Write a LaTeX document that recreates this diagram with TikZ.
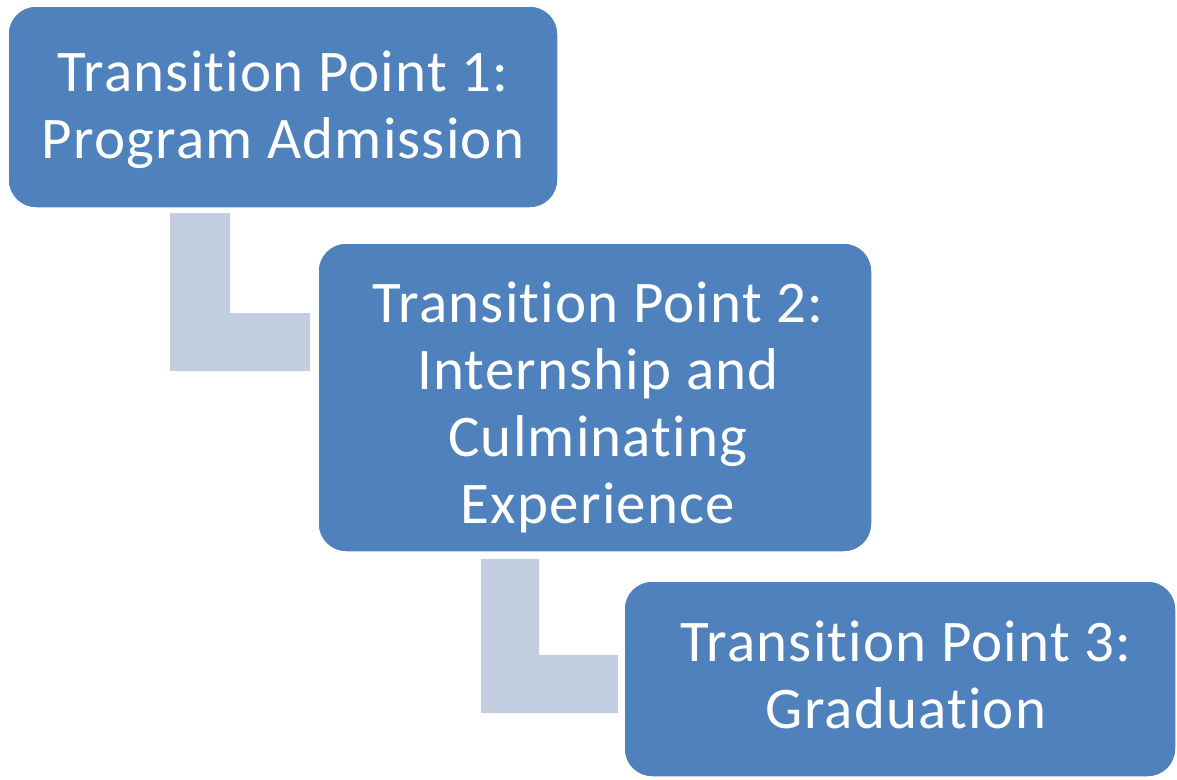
\documentclass[tikz,border=0pt]{standalone}
\usepackage{fontspec}
\setmainfont[Ligatures=NoCommon,LetterSpace=2]{Carlito}
\definecolor{boxblue}{RGB}{79,129,189}
\definecolor{elbowgrey}{RGB}{194,205,224}
\begin{document}
\begin{tikzpicture}[x=1pt,y=-1pt,
  stage/.style={draw=white, line width=1.5pt, fill=boxblue, rounded corners=28pt, inner sep=0pt},
  stagetext/.style={text=white, align=center, font=\fontsize{59}{67}\selectfont, inner sep=0pt},
  elbow/.style={fill=elbowgrey, draw=none}]
\useasboundingbox (0,0) rectangle (1177,779);
% elbow connectors (behind the boxes)
\fill[elbow] (170,213) -- (230,213) -- (230,313) -- (310,313) -- (310,371) -- (170,371) -- cycle;
\fill[elbow] (481,559) -- (539,559) -- (539,655) -- (618,655) -- (618,713) -- (481,713) -- cycle;
% stage boxes
\node[stage, minimum width=550pt, minimum height=202pt,
  label={[stagetext, yshift=-3pt]center:{Transition Point 1:\\Program Admission}}] (p1) at (283,107) {};
\node[stage, minimum width=554pt, minimum height=309pt,
  label={[stagetext, xshift=3pt, yshift=-10pt]center:{Transition Point 2:\\Internship and\\Culminating\\Experience}}] (p2) at (595,397.5) {};
\node[stage, minimum width=552pt, minimum height=196pt,
  label={[stagetext, xshift=6pt, yshift=4pt]center:{Transition Point 3:\\Graduation}}] (p3) at (900,679) {};
\end{tikzpicture}
\end{document}
